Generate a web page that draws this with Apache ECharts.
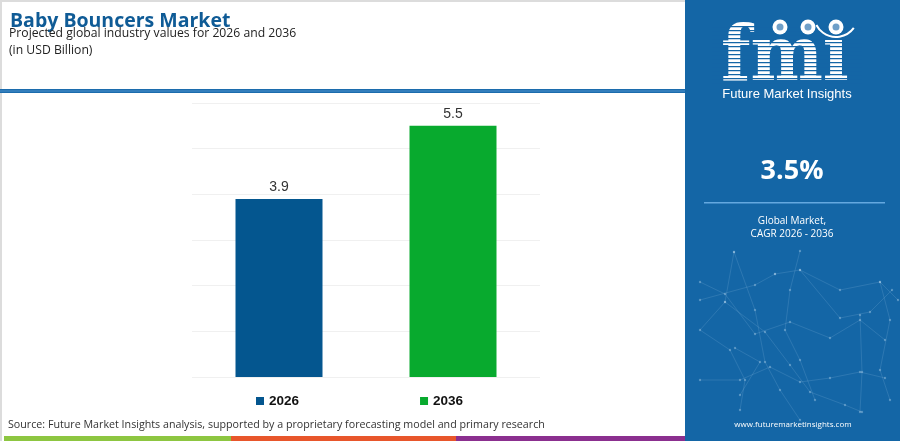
<!DOCTYPE html>
<html>
<head>
<meta charset="utf-8">
<script src="https://cdn.jsdelivr.net/npm/echarts@6/dist/echarts.min.js"></script>
<style>
html,body{margin:0;padding:0;background:#fff;}
#chart{width:900px;height:441px;}
</style>
</head>
<body>
<div id="chart"></div>
<script>
var categories = ['2026', '2036'];
var values = [3.9, 5.5];
var seriesColors = ['#04568f', '#08aa2e'];
var titleText = 'Baby Bouncers Market';
var subtitleLines = ['Projected global industry values for 2026 and 2036', '(in USD Billion)'];
var sourceText = 'Source: Future Market Insights analysis, supported by a proprietary forecasting model and primary research';
var cagrText = '3.5%';
var cagrLabel = ['Global Market,', 'CAGR 2026 - 2036'];

var PANEL = '#1466a6';
var chart = echarts.init(document.getElementById('chart'));

var series = categories.map(function (c, i) {
  return {
    name: c,
    type: 'bar',
    barWidth: 87,
    barGap: '-100%',
    itemStyle: { color: seriesColors[i] },
    label: {
      show: true, position: 'top', distance: 5,
      fontFamily: 'Liberation Sans', fontSize: 14, color: '#333'
    },
    data: categories.map(function (cc, j) { return j === i ? values[j] : '-'; })
  };
});

var graphics = [];
graphics.push({ type: 'rect', shape: { x: 0, y: 0, width: 685, height: 2 }, style: { fill: '#dcdcdc' }, z: 1 });
graphics.push({ type: 'rect', shape: { x: 0, y: 0, width: 2, height: 441 }, style: { fill: '#dcdcdc' }, z: 1 });
graphics.push({ type: 'rect', shape: { x: 0, y: 89, width: 685, height: 4 }, style: { fill: '#1c6cad' }, z: 2 });
graphics.push({ type: 'rect', shape: { x: 0, y: 90.5, width: 685, height: 1 }, style: { fill: '#4a90cc' }, z: 3 });
graphics.push({ type: 'text', x: 10, y: 21, style: { text: titleText, fontFamily: 'Open Sans', fontWeight: 'bold', fontSize: 19.5, fill: '#0f5b96', verticalAlign: 'middle' }, z: 5 });
graphics.push({ type: 'text', x: 9, y: 34, style: { text: subtitleLines[0], fontFamily: 'Open Sans', fontSize: 12.2, fill: '#222', verticalAlign: 'middle' }, z: 5 });
graphics.push({ type: 'text', x: 9, y: 51, style: { text: subtitleLines[1], fontFamily: 'Open Sans', fontSize: 12.2, fill: '#222', verticalAlign: 'middle' }, z: 5 });
graphics.push({ type: 'text', x: 8, y: 425, style: { text: sourceText, fontFamily: 'Open Sans', fontSize: 10.7, fill: '#333', verticalAlign: 'middle' }, z: 5 });
graphics.push({ type: 'rect', shape: { x: 4, y: 436, width: 227, height: 5 }, style: { fill: '#8dc641' }, z: 5 });
graphics.push({ type: 'rect', shape: { x: 231, y: 436, width: 225, height: 5 }, style: { fill: '#e8562b' }, z: 5 });
graphics.push({ type: 'rect', shape: { x: 456, y: 436, width: 229, height: 5 }, style: { fill: '#8b2f8f' }, z: 5 });
graphics.push({ type: 'rect', shape: { x: 685, y: 0, width: 215, height: 441 }, style: { fill: PANEL }, z: 1 });
var net = [
  [[734,252],[725,302],[700,330],[730,350],[745,380],[740,410]],
  [[734,252],[755,310],[765,362],[780,390],[800,420]],
  [[700,282],[725,294],[755,334],[790,322],[830,338],[860,320],[885,340]],
  [[775,274],[800,270],[840,290],[880,282],[898,300]],
  [[800,270],[840,318],[870,312],[892,290]],
  [[700,380],[740,380],[770,367],[800,382],[830,378],[860,372],[885,378]],
  [[725,302],[765,332],[790,365],[810,392],[845,405],[862,412]],
  [[800,251],[790,290],[785,330],[800,360],[815,400]],
  [[860,315],[862,372],[860,412]],
  [[880,282],[890,320],[880,370],[890,400]],
  [[700,300],[755,285],[775,274]],
  [[735,348],[760,362],[740,395]]
];
net.forEach(function (p) {
  graphics.push({ type: 'polyline', shape: { points: p }, style: { stroke: 'rgba(180,215,240,0.22)', lineWidth: 0.7, fill: null }, z: 2 });
  p.forEach(function (pt) {
    graphics.push({ type: 'circle', shape: { cx: pt[0], cy: pt[1], r: 1.2 }, style: { fill: 'rgba(200,225,245,0.35)' }, z: 2 });
  });
});
graphics.push({ type: 'text', x: 721, y: 22, scaleX: 0.9, originX: 0, originY: 0, style: { text: 'fm\u0131', fontFamily: 'DejaVu Serif', fontWeight: 'bold', fontSize: 76, fill: '#ffffff', verticalAlign: 'top' }, z: 3 });
for (var yy = 26; yy < 86; yy += 4) {
  graphics.push({ type: 'rect', shape: { x: 712, y: yy, width: 150, height: 1.2 }, style: { fill: PANEL }, z: 4 });
}
[[780, 27], [808, 27], [836, 27]].forEach(function (c) {
  graphics.push({ type: 'circle', shape: { cx: c[0], cy: c[1], r: 7.5 }, style: { fill: '#ffffff' }, z: 5 });
  graphics.push({ type: 'circle', shape: { cx: c[0], cy: c[1], r: 3.5 }, style: { fill: '#6f9fc8' }, z: 6 });
});
graphics.push({ type: 'arc', shape: { cx: 836, cy: 15, r: 22, startAngle: Math.PI * 0.2, endAngle: Math.PI * 0.85 }, style: { stroke: '#fff', lineWidth: 2, fill: null }, z: 5 });
graphics.push({ type: 'text', x: 787, y: 94, style: { text: 'Future Market Insights', fontFamily: 'Liberation Sans', fontSize: 13, fill: '#ffffff', align: 'center', verticalAlign: 'middle' }, z: 5 });
graphics.push({ type: 'text', x: 792, y: 171, style: { text: cagrText, fontFamily: 'Open Sans', fontWeight: 'bold', fontSize: 27, fill: '#ffffff', align: 'center', verticalAlign: 'middle' }, z: 5 });
graphics.push({ type: 'rect', shape: { x: 704, y: 202, width: 181, height: 1.5 }, style: { fill: '#64a8df' }, z: 5 });
graphics.push({ type: 'text', x: 792, y: 221, style: { text: cagrLabel[0], fontFamily: 'Open Sans', fontSize: 10, fill: '#ffffff', align: 'center', verticalAlign: 'middle' }, z: 5 });
graphics.push({ type: 'text', x: 792, y: 234, style: { text: cagrLabel[1], fontFamily: 'Open Sans', fontSize: 10, fill: '#ffffff', align: 'center', verticalAlign: 'middle' }, z: 5 });
graphics.push({ type: 'text', x: 793, y: 425, style: { text: 'www.futuremarketinsights.com', fontFamily: 'Open Sans', fontSize: 8, fill: '#ffffff', align: 'center', verticalAlign: 'middle' }, z: 5 });

chart.setOption({
  animation: false,
  grid: { left: 192, right: 360, top: 103, bottom: 64 },
  legend: {
    data: categories,
    left: 251, top: 389,
    itemWidth: 8, itemHeight: 8, itemGap: 121,
    icon: 'rect',
    textStyle: { fontFamily: 'Liberation Sans', fontWeight: 'bold', fontSize: 13.5, color: '#111' }
  },
  xAxis: {
    type: 'category', data: categories,
    axisLine: { show: false }, axisTick: { show: false }, axisLabel: { show: false }
  },
  yAxis: {
    type: 'value', min: 0, max: 6, interval: 1,
    axisLabel: { show: false }, axisLine: { show: false }, axisTick: { show: false },
    splitLine: { lineStyle: { color: '#f0f0f0', width: 1 } }
  },
  series: series,
  graphic: graphics
});
</script>
</body>
</html>
